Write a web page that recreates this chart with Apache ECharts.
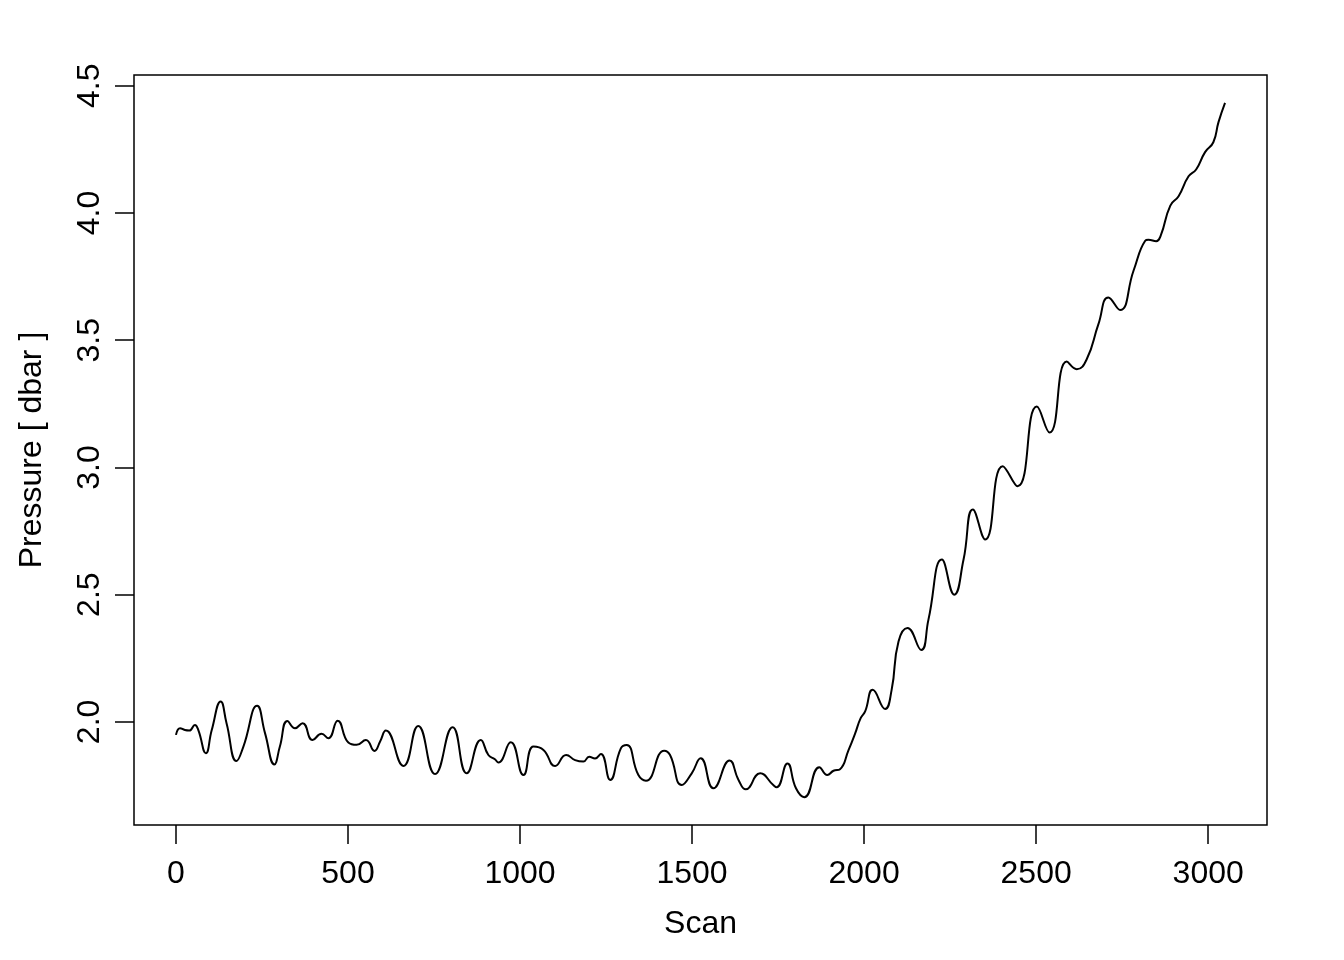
<!DOCTYPE html>
<html>
<head>
<meta charset="utf-8">
<script src="https://cdn.jsdelivr.net/npm/echarts@6/dist/echarts.min.js"></script>
<style>
html,body{margin:0;padding:0;background:#fff;}
#chart{width:1344px;height:960px;}
</style>
</head>
<body>
<div id="chart"></div>
<script>
const scans = [0,12,26,39,55,65,87,104,130,147,176,196,236,259,286,302,324,346,368,397,423,443,470,501,525,552,577,593,610,661,704,753,804,845,886,908,927,937,973,1010,1039,1068,1102,1134,1160,1184,1201,1218,1235,1262,1293,1310,1344,1366,1419,1436,1470,1499,1525,1562,1609,1635,1656,1698,1736,1746,1777,1802,1826,1870,1893,1911,1930,1955,1974,1990,2003,2025,2061,2080,2100,2126,2166,2187,2226,2262,2289,2316,2352,2403,2446,2502,2539,2589,2618,2647,2681,2710,2744,2783,2817,2826,2849,2862,2890,2914,2943,2965,2991,3015,3030,3049];
const pressure = [1.949,1.975,1.968,1.966,1.988,1.968,1.877,1.968,2.080,1.995,1.846,1.903,2.063,1.955,1.833,1.903,2.004,1.975,1.995,1.929,1.953,1.936,2.005,1.919,1.910,1.929,1.886,1.922,1.966,1.827,1.984,1.795,1.979,1.798,1.929,1.870,1.853,1.840,1.920,1.791,1.903,1.890,1.827,1.870,1.850,1.844,1.863,1.856,1.874,1.772,1.896,1.909,1.791,1.769,1.887,1.870,1.752,1.798,1.857,1.739,1.848,1.772,1.735,1.798,1.752,1.743,1.837,1.739,1.704,1.822,1.791,1.808,1.814,1.890,1.955,2.015,2.041,2.126,2.051,2.126,2.316,2.369,2.283,2.402,2.638,2.500,2.638,2.835,2.717,3.005,2.926,3.239,3.137,3.416,3.386,3.425,3.563,3.668,3.619,3.773,3.891,3.895,3.889,3.911,4.029,4.066,4.144,4.171,4.239,4.278,4.357,4.433];
const xTicks = [0,500,1000,1500,2000,2500,3000];
const yTicks = [2.0,2.5,3.0,3.5,4.0,4.5];
const xTitle = 'Scan';
const yTitle = 'Pressure [ dbar ]';

const xRange = [Math.min(...scans), Math.max(...scans)];
const yRange = [Math.min(...pressure), Math.max(...pressure)];
const xPad = (xRange[1]-xRange[0])*0.04, yPad = (yRange[1]-yRange[0])*0.04;

const font = 'Liberation Sans, Arial, Helvetica, sans-serif';
const chart = echarts.init(document.getElementById('chart'), null, {renderer:'canvas'});
chart.setOption({
  animation:false,
  backgroundColor:'#fff',
  grid:{left:134, right:77, top:75, bottom:135, show:true, borderColor:'#000', borderWidth:1.5, backgroundColor:'transparent'},
  xAxis:{
    type:'value', min:xRange[0]-xPad, max:xRange[1]+xPad,
    name:xTitle, nameLocation:'middle', nameGap:83,
    nameTextStyle:{fontFamily:font, fontSize:32, color:'#000'},
    axisLine:{show:false, onZero:false},
    splitLine:{show:false},
    axisTick:{show:true, length:19, lineStyle:{color:'#000', width:1.5}, customValues:xTicks},
    axisLabel:{fontFamily:font, fontSize:32, color:'#000', margin:33, customValues:xTicks, formatter:v=>String(v)}
  },
  yAxis:{
    type:'value', min:yRange[0]-yPad, max:yRange[1]+yPad,
    name:yTitle, nameLocation:'middle', nameGap:86, nameRotate:90,
    nameTextStyle:{fontFamily:font, fontSize:32, color:'#000'},
    axisLine:{show:false, onZero:false},
    splitLine:{show:false},
    axisTick:{show:true, length:19, lineStyle:{color:'#000', width:1.5}, customValues:yTicks},
    axisLabel:{fontFamily:font, fontSize:32, color:'#000', margin:28, rotate:90, customValues:yTicks, formatter:v=>v.toFixed(1)}
  },
  series:[{
    type:'line',
    data:scans.map((s,i)=>[s,pressure[i]]),
    showSymbol:false,
    smooth:0.5,
    lineStyle:{color:'#000', width:2},
    itemStyle:{color:'#000'}
  }]
});
</script>
</body>
</html>
